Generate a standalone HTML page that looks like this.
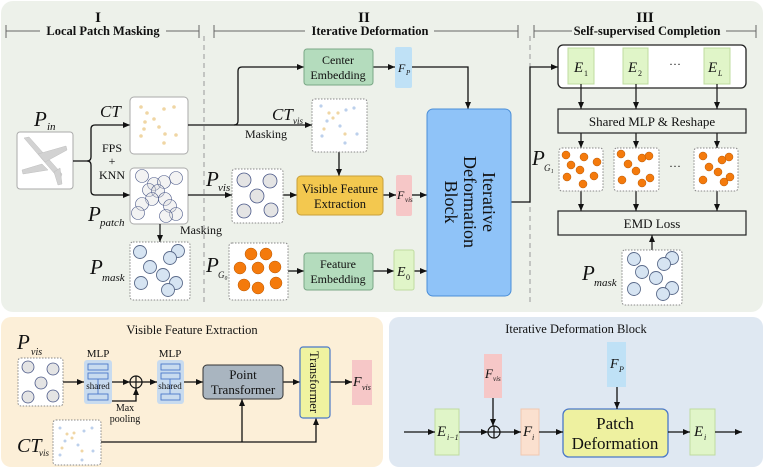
<!DOCTYPE html>
<html><head><meta charset="utf-8"><style>
html,body{margin:0;padding:0;background:#fff}
svg{display:block}
text{font-family:"Liberation Serif",serif;fill:#111}
.it{font-style:italic}
</style></head><body>
<svg width="764" height="468" viewBox="0 0 764 468" xmlns="http://www.w3.org/2000/svg">
<defs>
<marker id="a" markerWidth="8" markerHeight="8" refX="7" refY="4" orient="auto" markerUnits="userSpaceOnUse"><path d="M0,1 L7,4 L0,7 z" fill="#111"/></marker>
</defs>
<!-- panels -->
<rect x="1" y="1" width="762" height="311" rx="12" fill="#edf1ea"/>
<rect x="1" y="317" width="382" height="150" rx="10" fill="#fcefd8"/>
<rect x="389" y="317" width="374" height="150" rx="10" fill="#dfe8f2"/>

<!-- headers -->
<g stroke="#666" stroke-width="1" fill="none">
<path d="M6,25 V38 M6,31 H40 M166,31 H199 M199,25 V38"/>
<path d="M214,25 V38 M214,31 H305 M434,31 H518 M518,25 V38"/>
<path d="M534,25 V38 M534,31 H572 M726,31 H756 M756,25 V38"/>
</g>
<g stroke="#999" stroke-dasharray="5,4" stroke-width="1">
<line x1="204" y1="36" x2="204" y2="306"/>
<line x1="530" y1="36" x2="530" y2="306"/>
</g>
<text x="98" y="22" font-size="15" font-weight="bold" text-anchor="middle">I</text>
<text x="103" y="35" font-size="12.5" font-weight="bold" text-anchor="middle">Local Patch Masking</text>
<text x="364" y="22" font-size="15" font-weight="bold" text-anchor="middle">II</text>
<text x="370" y="35" font-size="12.5" font-weight="bold" text-anchor="middle">Iterative Deformation</text>
<text x="645" y="22" font-size="15" font-weight="bold" text-anchor="middle">III</text>
<text x="647" y="35" font-size="12.5" font-weight="bold" text-anchor="middle">Self-supervised Completion</text>

<!-- P_in -->
<text x="34" y="126" font-size="21" class="it">P</text><text x="47" y="130" font-size="11" class="it">in</text>
<rect x="17" y="132" width="56" height="57" rx="3" fill="#fff" stroke="#aaa"/>
<g fill="#d2d2d2" stroke="#c0c0c0" stroke-width="0.5">
<path d="M24,138 L29,137 L62,174 L60,180 Z"/>
<path d="M38,154 L66,146 L67,150 L45,162 Z"/>
<path d="M42,164 L22,170 L23,174 L48,170 Z"/>
<path d="M54,172 L60,168 L62,184 L58,185 Z"/>
</g>
<!-- bracket -->
<g stroke="#111" stroke-width="1.3" fill="none">
<path d="M73,161 H87 Q91,161 91,157 V129 Q91,125 95,125 H130" marker-end="url(#a)"/>
<path d="M87,161 Q91,161 91,165 V191 Q91,195 95,195 H130" marker-end="url(#a)"/>
</g>
<text x="112" y="152" font-size="12" text-anchor="middle">FPS</text>
<text x="112" y="165" font-size="12" text-anchor="middle">+</text>
<text x="112" y="179" font-size="12" text-anchor="middle">KNN</text>
<text x="100" y="117" font-size="17" class="it">CT</text>
<rect x="130" y="97" width="58" height="57" rx="4" fill="#fff" stroke="#aaa"/>
<g fill="#f0d6a4">
<circle cx="141" cy="107" r="1.8"/><circle cx="164" cy="109" r="1.8"/><circle cx="174" cy="107" r="1.8"/><circle cx="147" cy="113" r="1.8"/><circle cx="154" cy="119" r="1.8"/><circle cx="145" cy="122" r="1.8"/><circle cx="159" cy="127" r="1.8"/><circle cx="144" cy="129" r="1.8"/><circle cx="165" cy="134" r="1.8"/><circle cx="176" cy="135" r="1.8"/><circle cx="141" cy="136" r="1.8"/><circle cx="164" cy="143" r="1.8"/>
</g>
<!-- P_patch -->
<rect x="130" y="168" width="58" height="56" rx="4" fill="#fff" stroke="#aaa"/>
<g fill="#ddd" fill-opacity="0.35" stroke="#4a5888" stroke-width="0.6">
<circle cx="142" cy="176" r="6.5"/><circle cx="154" cy="184" r="6.5"/><circle cx="176" cy="178" r="6.5"/><circle cx="164" cy="182" r="6.5"/><circle cx="149" cy="190" r="6.5"/><circle cx="158" cy="191" r="6.5"/><circle cx="152" cy="199" r="6.5"/><circle cx="165" cy="199" r="6.5"/><circle cx="142" cy="204" r="6.5"/><circle cx="170" cy="206" r="6.5"/><circle cx="138" cy="213" r="6.5"/><circle cx="176" cy="214" r="6.5"/><circle cx="166" cy="216" r="6.5"/>
</g>
<text x="88" y="221" font-size="21" class="it">P</text><text x="100" y="226" font-size="11" class="it">patch</text>
<line x1="160" y1="224" x2="160" y2="242" stroke="#111" stroke-width="1.2" marker-end="url(#a)"/>
<text x="180" y="234" font-size="12">Masking</text>
<!-- P_mask -->
<rect x="130" y="242" width="60" height="58" rx="3" fill="#fff" stroke="#888" stroke-dasharray="1.5,1.5"/>
<g fill="#d6e4f2" stroke="#5a6a8a" stroke-width="0.9">
<circle cx="140" cy="252" r="6.5"/><circle cx="178" cy="251" r="6.5"/><circle cx="170" cy="258" r="6.5"/><circle cx="150" cy="267" r="6.5"/><circle cx="163" cy="275" r="6.5"/><circle cx="141" cy="283" r="6.5"/><circle cx="176" cy="283" r="6.5"/><circle cx="168" cy="290" r="6.5"/>
</g>
<text x="90" y="274" font-size="21" class="it">P</text><text x="102" y="281" font-size="11" class="it">mask</text>

<!-- connectors -->
<g stroke="#111" stroke-width="1.3" fill="none">
<path d="M188,125 H312" marker-end="url(#a)"/>
<path d="M234,125 Q238,125 238,121 V71 Q238,67 242,67 H304" marker-end="url(#a)"/>
<path d="M188,195 H232" marker-end="url(#a)"/>
<path d="M283,195 H297" marker-end="url(#a)"/>
<path d="M339,152 V176" marker-end="url(#a)"/>
<path d="M373,67 H395" marker-end="url(#a)"/>
<path d="M412,67 H468 V109" marker-end="url(#a)"/>
<path d="M383,195 H396" marker-end="url(#a)"/>
<path d="M412,195 H427" marker-end="url(#a)"/>
<path d="M288,271 H304" marker-end="url(#a)"/>
<path d="M373,271 H394" marker-end="url(#a)"/>
<path d="M414,271 H427" marker-end="url(#a)"/>
<path d="M511,202 H530 V67 H558" marker-end="url(#a)"/>
</g>
<text x="272" y="120" font-size="17" class="it">CT</text><text x="293" y="124" font-size="9" class="it">vis</text>
<text x="245" y="138" font-size="12">Masking</text>
<rect x="312" y="99" width="55" height="53" rx="3" fill="#fff" stroke="#888" stroke-dasharray="1.5,1.5"/>
<g>
<circle cx="321" cy="106" r="1.6" fill="#bcd0ec"/><circle cx="346" cy="110" r="1.6" fill="#bcd0ec"/><circle cx="354" cy="108" r="1.6" fill="#bcd0ec"/><circle cx="329" cy="113" r="1.6" fill="#f0d6a4"/><circle cx="338" cy="113" r="1.6" fill="#f0d6a4"/><circle cx="327" cy="121" r="1.6" fill="#bcd0ec"/><circle cx="333" cy="118" r="1.6" fill="#f0d6a4"/><circle cx="340" cy="126" r="1.6" fill="#bcd0ec"/><circle cx="324" cy="129" r="1.6" fill="#f0d6a4"/><circle cx="345" cy="134" r="1.6" fill="#f0d6a4"/><circle cx="357" cy="134" r="1.6" fill="#bcd0ec"/><circle cx="322" cy="136" r="1.6" fill="#bcd0ec"/><circle cx="345" cy="143" r="1.6" fill="#bcd0ec"/>
</g>
<rect x="304" y="49" width="69" height="36" rx="3" fill="#b4dcbd" stroke="#7aa886"/>
<text x="338" y="64" font-size="12" text-anchor="middle">Center</text>
<text x="338" y="79" font-size="12" text-anchor="middle">Embedding</text>
<rect x="395" y="47" width="17" height="41" rx="2" fill="#bfe1f6"/>
<text x="398" y="72" font-size="12" class="it">F</text><text x="406" y="75" font-size="7" class="it">P</text>
<!-- P_vis -->
<text x="206" y="186" font-size="21" class="it">P</text><text x="218" y="191" font-size="11" class="it">vis</text>
<rect x="232" y="169" width="51" height="54" rx="3" fill="#fff" stroke="#888" stroke-dasharray="1.5,1.5"/>
<g fill="#e4e4e4" stroke="#4a5888" stroke-width="0.8">
<circle cx="244" cy="180" r="7"/><circle cx="270" cy="181" r="7"/><circle cx="257" cy="196" r="7"/><circle cx="244" cy="211" r="7"/><circle cx="271" cy="210" r="7"/>
</g>
<rect x="297" y="176" width="86" height="39" rx="4" fill="#f3c84f" stroke="#c8a03a"/>
<text x="340" y="193" font-size="12.5" text-anchor="middle">Visible Feature</text>
<text x="340" y="208" font-size="12.5" text-anchor="middle">Extraction</text>
<rect x="396" y="175" width="16" height="41" rx="2" fill="#f6c7c7"/>
<text x="397" y="199" font-size="12" class="it">F</text><text x="405" y="202" font-size="7" class="it">vis</text>
<!-- P_G0 -->
<text x="206" y="272" font-size="21" class="it">P</text><text x="218" y="278" font-size="9" class="it">G₀</text>
<rect x="229" y="243" width="59" height="57" rx="3" fill="#fff" stroke="#888" stroke-dasharray="1.5,1.5"/>
<g fill="#f47a0c" stroke="#b85a08" stroke-width="0.5">
<circle cx="251" cy="254" r="6"/><circle cx="266" cy="254" r="6"/><circle cx="240" cy="268" r="6"/><circle cx="258" cy="268" r="6"/><circle cx="275" cy="267" r="6"/><circle cx="244" cy="285" r="6"/><circle cx="258" cy="288" r="6"/><circle cx="276" cy="283" r="6"/>
</g>
<rect x="304" y="253" width="69" height="37" rx="3" fill="#b4dcbd" stroke="#7aa886"/>
<text x="338" y="268" font-size="12" text-anchor="middle">Feature</text>
<text x="338" y="283" font-size="12" text-anchor="middle">Embedding</text>
<rect x="394" y="250" width="20" height="40" rx="2" fill="#e0f5c8" stroke="#bfdca0"/>
<text x="397" y="276" font-size="14" class="it">E</text><text x="406" y="280" font-size="8">0</text>
<!-- IDB -->
<rect x="427" y="109" width="84" height="187" rx="6" fill="#8fc3f8" stroke="#4a8ed8"/>
<g transform="translate(469,202) rotate(90)" font-size="18">
<text x="0" y="-14" text-anchor="middle">Iterative</text>
<text x="0" y="5" text-anchor="middle">Deformation</text>
<text x="0" y="24" text-anchor="middle">Block</text>
</g>
<!-- section III -->
<rect x="558" y="45" width="188" height="43" rx="5" fill="#fff" stroke="#222" stroke-width="1.3"/>
<rect x="568" y="48" width="26" height="36" fill="#e0f5c8" stroke="#bfdca0"/>
<rect x="623" y="48" width="25" height="36" fill="#e0f5c8" stroke="#bfdca0"/>
<rect x="704" y="48" width="26" height="36" fill="#e0f5c8" stroke="#bfdca0"/>
<text x="574" y="72" font-size="15" class="it">E</text><text x="584" y="76" font-size="8">1</text>
<text x="628" y="72" font-size="15" class="it">E</text><text x="638" y="76" font-size="8">2</text>
<text x="675" y="68" font-size="12" text-anchor="middle">···</text>
<text x="708" y="72" font-size="15" class="it">E</text><text x="718" y="76" font-size="8" class="it">L</text>
<g stroke="#111" stroke-width="1.2">
<line x1="581" y1="84" x2="581" y2="109" marker-end="url(#a)"/>
<line x1="636" y1="84" x2="636" y2="109" marker-end="url(#a)"/>
<line x1="717" y1="84" x2="717" y2="109" marker-end="url(#a)"/>
<line x1="581" y1="133" x2="581" y2="148" marker-end="url(#a)"/>
<line x1="636" y1="133" x2="636" y2="148" marker-end="url(#a)"/>
<line x1="717" y1="133" x2="717" y2="148" marker-end="url(#a)"/>
<line x1="581" y1="191" x2="581" y2="211" marker-end="url(#a)"/>
<line x1="636" y1="191" x2="636" y2="211" marker-end="url(#a)"/>
<line x1="717" y1="191" x2="717" y2="211" marker-end="url(#a)"/>
<line x1="652" y1="250" x2="652" y2="235" marker-end="url(#a)"/>
</g>
<rect x="558" y="109" width="188" height="24" fill="#edf1ea" stroke="#222" stroke-width="1.2"/>
<text x="652" y="126" font-size="13" text-anchor="middle">Shared MLP &amp; Reshape</text>
<text x="532" y="165" font-size="21" class="it">P</text><text x="544" y="171" font-size="9" class="it">G₁</text>
<g fill="#fff" stroke="#888" stroke-dasharray="1.5,1.5">
<rect x="559" y="148" width="44" height="43" rx="3"/><rect x="614" y="148" width="45" height="43" rx="3"/><rect x="694" y="148" width="44" height="43" rx="3"/>
</g>
<g fill="#f47a0c" stroke="#b85a08" stroke-width="0.5">
<circle cx="566" cy="155" r="4"/><circle cx="584" cy="157" r="4"/><circle cx="597" cy="162" r="4"/><circle cx="571" cy="165" r="4"/><circle cx="580" cy="170" r="4"/><circle cx="567" cy="177" r="4"/><circle cx="594" cy="176" r="4"/><circle cx="583" cy="184" r="4"/>
<circle cx="621" cy="154" r="4"/><circle cx="642" cy="158" r="4"/><circle cx="649" cy="156" r="4"/><circle cx="628" cy="164" r="4"/><circle cx="636" cy="171" r="4"/><circle cx="622" cy="180" r="4"/><circle cx="642" cy="183" r="4"/><circle cx="650" cy="178" r="4"/>
<circle cx="703" cy="156" r="4"/><circle cx="722" cy="160" r="4"/><circle cx="729" cy="157" r="4"/><circle cx="709" cy="167" r="4"/><circle cx="718" cy="172" r="4"/><circle cx="703" cy="180" r="4"/><circle cx="724" cy="182" r="4"/><circle cx="730" cy="177" r="4"/>
</g>
<text x="675" y="170" font-size="12" text-anchor="middle">···</text>
<rect x="558" y="211" width="188" height="24" fill="#edf1ea" stroke="#222" stroke-width="1.2"/>
<text x="652" y="228" font-size="13" text-anchor="middle">EMD Loss</text>
<text x="582" y="280" font-size="21" class="it">P</text><text x="594" y="286" font-size="11" class="it">mask</text>
<rect x="622" y="250" width="60" height="55" rx="3" fill="#fff" stroke="#888" stroke-dasharray="1.5,1.5"/>
<g fill="#d6e4f2" stroke="#5a6a8a" stroke-width="0.9">
<circle cx="634" cy="259" r="6.5"/><circle cx="672" cy="258" r="6.5"/><circle cx="664" cy="264" r="6.5"/><circle cx="642" cy="272" r="6.5"/><circle cx="656" cy="278" r="6.5"/><circle cx="634" cy="289" r="6.5"/><circle cx="672" cy="288" r="6.5"/><circle cx="663" cy="294" r="6.5"/>
</g>

<!-- bottom-left -->
<text x="192" y="334" font-size="12.5" text-anchor="middle">Visible Feature Extraction</text>
<text x="17" y="349" font-size="21" class="it">P</text><text x="31" y="355" font-size="10" class="it">vis</text>
<rect x="18" y="358" width="45" height="48" rx="3" fill="#fff" stroke="#888" stroke-dasharray="1.5,1.5"/>
<g fill="#e4e4e4" stroke="#4a5888" stroke-width="0.8">
<circle cx="28" cy="367" r="6"/><circle cx="53" cy="369" r="6"/><circle cx="41" cy="383" r="6"/><circle cx="28" cy="397" r="6"/><circle cx="53" cy="396" r="6"/>
</g>
<text x="98" y="357" font-size="11" text-anchor="middle">MLP</text>
<text x="170" y="357" font-size="11" text-anchor="middle">MLP</text>
<rect x="84" y="360" width="28" height="44" rx="3" fill="#c8dbef"/>
<rect x="157" y="360" width="27" height="44" rx="3" fill="#c8dbef"/>
<g fill="none" stroke="#4a78c8" stroke-width="0.9">
<rect x="88" y="364" width="20" height="6"/><rect x="88" y="373" width="20" height="6"/><rect x="88" y="394" width="20" height="6"/><line x1="98" y1="379" x2="98" y2="394"/>
<rect x="161" y="364" width="19" height="6"/><rect x="161" y="373" width="19" height="6"/><rect x="161" y="394" width="19" height="6"/><line x1="170" y1="379" x2="170" y2="394"/>
</g>
<text x="98" y="389" font-size="9" text-anchor="middle">shared</text>
<text x="170" y="389" font-size="9" text-anchor="middle">shared</text>
<g stroke="#111" stroke-width="1.3" fill="none">
<path d="M63,382 H84" marker-end="url(#a)"/>
<path d="M112,382 H130" marker-end="url(#a)"/>
<path d="M142,382 H157" marker-end="url(#a)"/>
<path d="M112,401 H136 V388" marker-end="url(#a)"/>
<path d="M184,382 H203" marker-end="url(#a)"/>
<path d="M283,382 H300" marker-end="url(#a)"/>
<path d="M330,382 H352" marker-end="url(#a)"/>
<path d="M101,442 H316 V418" marker-end="url(#a)"/>
<path d="M242,442 V399" marker-end="url(#a)"/>
</g>
<circle cx="136" cy="382" r="6" fill="none" stroke="#111" stroke-width="1.2"/>
<path d="M130,382 H142 M136,376 V388" stroke="#111" stroke-width="1.2"/>
<text x="125" y="411" font-size="10" text-anchor="middle">Max</text>
<text x="125" y="422" font-size="10" text-anchor="middle">pooling</text>
<rect x="203" y="365" width="80" height="34" rx="4" fill="#a9b5c0" stroke="#333"/>
<text x="243" y="379" font-size="13" text-anchor="middle">Point</text>
<text x="243" y="394" font-size="13" text-anchor="middle">Transformer</text>
<rect x="300" y="347" width="30" height="71" rx="3" fill="#eff3a0" stroke="#4a78c8" stroke-width="1.2"/>
<text transform="translate(310,382) rotate(90)" font-size="12.5" text-anchor="middle">Transformer</text>
<rect x="352" y="360" width="20" height="45" fill="#f6c7c7"/>
<text x="353" y="386" font-size="14" class="it">F</text><text x="362" y="390" font-size="8" class="it">vis</text>
<text x="17" y="452" font-size="20" class="it">CT</text><text x="39" y="456" font-size="9" class="it">vis</text>
<rect x="53" y="420" width="48" height="45" rx="3" fill="#fff" stroke="#888" stroke-dasharray="1.5,1.5"/>
<g>
<circle cx="60" cy="428" r="1.5" fill="#bcd0ec"/><circle cx="84" cy="431" r="1.5" fill="#bcd0ec"/><circle cx="92" cy="428" r="1.5" fill="#bcd0ec"/><circle cx="67" cy="434" r="1.5" fill="#f0d6a4"/><circle cx="74" cy="433" r="1.5" fill="#f0d6a4"/><circle cx="65" cy="441" r="1.5" fill="#bcd0ec"/><circle cx="72" cy="438" r="1.5" fill="#f0d6a4"/><circle cx="78" cy="445" r="1.5" fill="#bcd0ec"/><circle cx="62" cy="448" r="1.5" fill="#f0d6a4"/><circle cx="82" cy="451" r="1.5" fill="#f0d6a4"/><circle cx="93" cy="451" r="1.5" fill="#bcd0ec"/><circle cx="60" cy="455" r="1.5" fill="#bcd0ec"/><circle cx="82" cy="460" r="1.5" fill="#bcd0ec"/>
</g>

<!-- bottom-right -->
<text x="576" y="333" font-size="12.5" text-anchor="middle">Iterative Deformation Block</text>
<rect x="484" y="354" width="18" height="44" fill="#f6c7c7"/>
<text x="485" y="378" font-size="13" class="it">F</text><text x="493" y="381" font-size="7" class="it">vis</text>
<rect x="607" y="342" width="19" height="45" fill="#bfe1f6"/>
<text x="610" y="368" font-size="14" class="it">F</text><text x="619" y="372" font-size="8" class="it">P</text>
<rect x="435" y="409" width="24" height="46" fill="#e0f5c8" stroke="#bfdca0"/>
<text x="437" y="436" font-size="15" class="it">E</text><text x="447" y="440" font-size="8" class="it">i−1</text>
<rect x="521" y="409" width="18" height="46" fill="#fbe0cf" stroke="#f0c8b0"/>
<text x="523" y="436" font-size="15" class="it">F</text><text x="532" y="440" font-size="8" class="it">i</text>
<rect x="563" y="409" width="105" height="48" rx="6" fill="#eef1a0" stroke="#4a78c8" stroke-width="1.3"/>
<text x="615" y="429" font-size="17" text-anchor="middle">Patch</text>
<text x="615" y="449" font-size="17" text-anchor="middle">Deformation</text>
<rect x="690" y="409" width="25" height="46" fill="#e0f5c8" stroke="#bfdca0"/>
<text x="694" y="436" font-size="15" class="it">E</text><text x="704" y="440" font-size="8" class="it">i</text>
<g stroke="#111" stroke-width="1.3" fill="none">
<path d="M404,432 H435" marker-end="url(#a)"/>
<path d="M459,432 H488" marker-end="url(#a)"/>
<path d="M500,432 H521" marker-end="url(#a)"/>
<path d="M493,398 V426" marker-end="url(#a)"/>
<path d="M539,432 H563" marker-end="url(#a)"/>
<path d="M617,387 V409" marker-end="url(#a)"/>
<path d="M668,432 H690" marker-end="url(#a)"/>
<path d="M715,432 H742" marker-end="url(#a)"/>
</g>
<circle cx="494" cy="432" r="6" fill="none" stroke="#111" stroke-width="1.2"/>
<path d="M488,432 H500 M494,426 V438" stroke="#111" stroke-width="1.2"/>
</svg>
</body></html>
